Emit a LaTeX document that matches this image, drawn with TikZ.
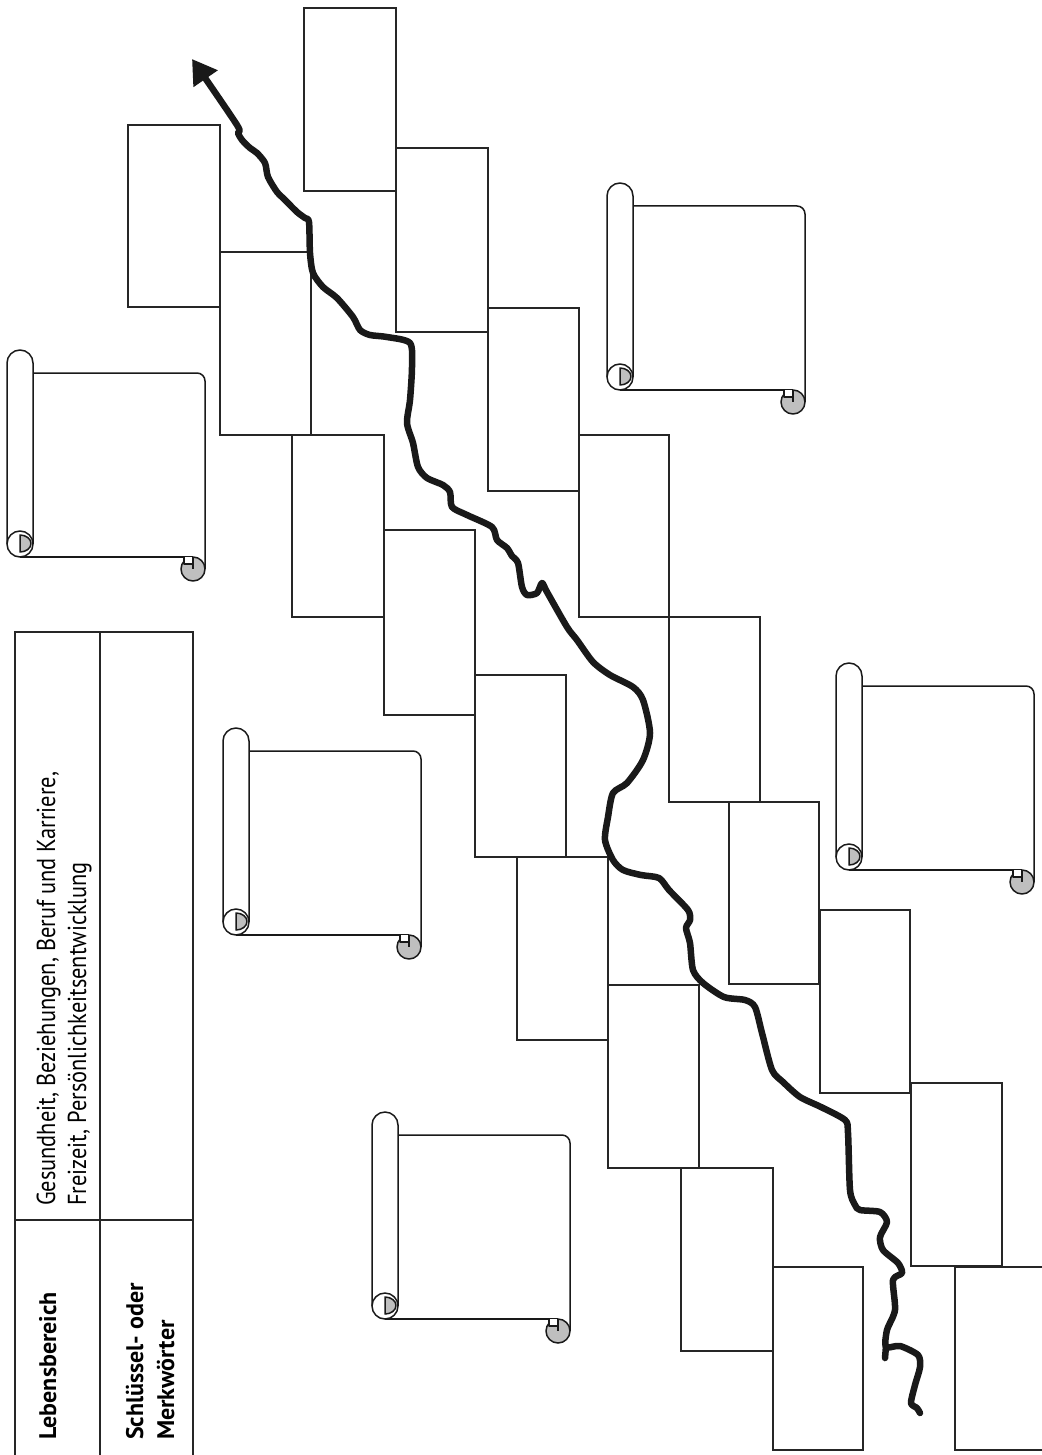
\documentclass[tikz,border=0pt]{standalone}
\usepackage{fontspec}
\setmainfont{PT Sans}
\newfontfamily\narrowfont[FakeStretch=0.86]{PT Sans}
\usetikzlibrary{arrows.meta}

\begin{document}
\begin{tikzpicture}[
    x=1pt, y=-1pt,
    field/.style={draw=black!85, line width=1.6pt},
    roll/.style={draw=black!90, line width=1.5pt, line join=round},
    curl/.style={roll, fill=black!25},
    trail/.style={draw=black!90, line width=6.5pt, line cap=round, line join=round},
    celltext/.style={rotate=90, anchor=base west, inner sep=0pt, font=\narrowfont\fontsize{26}{30}\selectfont},
    headtext/.style={celltext, font=\fontsize{24}{28}\selectfont\bfseries},
    scroll/.pic={
        % sheet with the curl at the foot
        \draw[roll] (26,23) -- (190,23) arc[start angle=270, end angle=360, radius=8] -- (198,219);
        \draw[roll] (13,207) -- (186,207);
        \draw[curl] (186,219) circle[radius=12];
        \draw[roll, fill=white] (177,207) -- (177,214) -- (186,214) -- (186,207);
        \draw[roll] (186,207) -- (186,219);
        % roller
        \draw[roll, fill=white] (0,194) -- (0,13) arc[start angle=180, end angle=360, radius=13] -- (26,194);
        \draw[roll, fill=white] (13,194) circle[radius=13];
        \draw[curl] (13,185) arc[start angle=270, end angle=450, x radius=11, y radius=8.5] -- cycle;
    },
]
\path[use as bounding box, fill=white] (0,0) rectangle (1041,1455);

% lower staircase
\foreach \xa/\ya/\xb/\yb in {128/125/220/307, 220/252/311/435, 292/435/384/617, 384/530/475/715,
    475/675/566/857, 517/857/608/1040, 608/985/699/1168, 681/1168/773/1351, 773/1267/863/1450}
    \draw[field] (\xa,\ya) rectangle (\xb,\yb);
% upper staircase
\foreach \xa/\ya/\xb/\yb in {304/8/396/191, 396/148/488/332, 488/308/579/491, 579/435/669/617,
    669/617/760/802, 729/802/819/984, 820/910/910/1093, 911/1083/1002/1266, 955/1267/1046/1450}
    \draw[field] (\xa,\ya) rectangle (\xb,\yb);

% table
\draw[field] (15,1460) -- (15,632) -- (193,632) -- (193,1460);
\draw[field] (100,632) -- (100,1460);
\draw[field] (15,1220) -- (193,1220);
\node[headtext] (area) at (56,1440) {Lebensbereich};
\node[celltext] (areaA) at (55,1206) {Gesundheit, Beziehungen, Beruf und Karriere,};
\node[celltext] (areaB) at (86,1206) {Freizeit, Persönlichkeitsentwicklung};
\node[headtext] (keyA) at (143,1440) {Schlüssel- oder};
\node[headtext] (keyB) at (174,1440) {Merkwörter};

% scrolls
\pic at (7,350) {scroll};
\pic at (607,183) {scroll};
\pic at (223,728) {scroll};
\pic at (836,663) {scroll};
\pic at (372,1112) {scroll};

% life line
\draw[trail, -{Triangle[length=24pt, width=28pt]}] plot[smooth, tension=0.45] coordinates {
    (920,1413) (917,1408) (911,1403) (915,1385) (920,1367) (918,1355) (900,1346) (886,1347)
    (887,1330) (895,1310) (893,1280) (902,1273) (898,1263) (883,1250) (880,1237) (887,1222)
    (880,1212) (860,1210) (855,1205) (850,1190) (848,1133) (845,1120) (821,1107) (800,1097)
    (783,1082) (772,1070) (762,1033) (755,1007) (745,1000) (724,997) (703,983) (693,970)
    (690,943) (686,928) (690,920) (688,910) (669,890) (659,878) (641,875) (623,870)
    (613,860) (605,840) (608,817) (613,793) (627,783) (643,760) (650,733) (643,700)
    (633,687) (610,675) (593,662) (577,640) (567,627) (547,592) (542,583) (537,593)
    (527,595) (522,587) (518,563) (512,556) (507,548) (497,540) (492,527) (467,515)
    (452,507) (450,492) (443,485) (427,478) (418,467) (413,443) (407,423) (410,400)
    (412,367) (410,343) (387,337) (370,335) (360,330) (353,317) (337,298) (323,287)
    (313,273) (310,253) (309,222) (305,218) (297,212) (283,198) (277,192) (268,177)
    (265,163) (257,153) (250,148) (242,140) (238,133) (237,125) (192,59)};
\draw[trail] (886,1346) -- (885,1358);
\end{tikzpicture}
\end{document}
